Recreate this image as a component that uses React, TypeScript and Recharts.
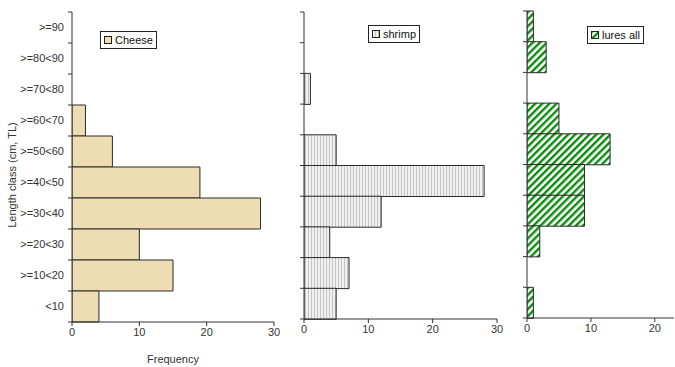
import React from "react";
import { BarChart, Bar, XAxis, YAxis, Legend } from "recharts";

// top to bottom, as drawn
const lengthClasses = [
  ">=90",
  ">=80<90",
  ">=70<80",
  ">=60<70",
  ">=50<60",
  ">=40<50",
  ">=30<40",
  ">=20<30",
  ">=10<20",
  "<10",
];
const cheese = [0, 0, 0, 2, 6, 19, 28, 10, 15, 4];
const shrimp = [0, 0, 1, 0, 5, 28, 12, 4, 7, 5];
const luresAll = [1, 3, 0, 5, 13, 9, 9, 2, 0, 1];
const freqTicks30 = [0, 10, 20, 30];
const freqTicks20 = [0, 10, 20];

const font = "'Liberation Sans', Arial, sans-serif";
const ink = "#333";

const toRows = (values: number[]) =>
  lengthClasses.map((cls, i) => ({ cls, value: values[i] }));

const Patterns = () => (
  <defs>
    <pattern id="shrimpFill" width={3} height={4} patternUnits="userSpaceOnUse">
      <rect width={3} height={4} fill="#f1f1f1" />
      <rect width={1} height={4} fill="#c4c4c4" />
    </pattern>
    <pattern
      id="luresFill"
      width={5}
      height={5}
      patternUnits="userSpaceOnUse"
      patternTransform="rotate(45)"
    >
      <rect width={5} height={5} fill="#fff" />
      <rect width={2.4} height={5} fill="#0a8a0a" />
    </pattern>
  </defs>
);

const LegendBox = ({ label, fill }: { label: string; fill: string }) => (
  <div
    style={{
      display: "inline-flex",
      alignItems: "center",
      border: "1px solid #222",
      background: "#fff",
      padding: "0 3px",
      height: 16,
      fontSize: 11,
      fontFamily: font,
      color: "#111",
      whiteSpace: "nowrap",
    }}
  >
    <svg width={8} height={8}>
      <rect x={0.5} y={0.5} width={7} height={7} fill={fill} stroke="#222" />
    </svg>
    <span style={{ marginLeft: 3 }}>{label}</span>
  </div>
);

const makeTick = (axisX: number, band: number, showLabel: boolean) => (props: any) => {
  const { y, payload, index } = props;
  const top = y - band / 2;
  return (
    <g>
      <line x1={axisX - 4} x2={axisX} y1={top} y2={top} stroke={ink} />
      {index === lengthClasses.length - 1 && (
        <line x1={axisX - 4} x2={axisX} y1={y + band / 2} y2={y + band / 2} stroke={ink} />
      )}
      {showLabel && (
        <text
          x={axisX - 8}
          y={y}
          dy="0.35em"
          textAnchor="end"
          fontSize={11}
          fontFamily={font}
          fill={ink}
        >
          {payload.value}
        </text>
      )}
    </g>
  );
};

const LengthTitle = () => (
  <text
    x={12}
    y={175}
    transform="rotate(-90 12 175)"
    textAnchor="middle"
    dy="0.35em"
    fontSize={11}
    fontFamily={font}
    fill={ink}
  >
    Length class (cm, TL)
  </text>
);

type PanelProps = {
  values: number[];
  fill: string;
  legend: string;
  width: number;
  top: number;
  right: number;
  axisWidth: number;
  xHeight: number;
  max: number;
  ticks: number[];
  legendPos: { left: number; top: number };
  first?: boolean;
};

const Panel = (p: PanelProps) => {
  const height = 367;
  const band = (height - p.top - p.xHeight) / lengthClasses.length;
  return (
    <BarChart
      width={p.width}
      height={height}
      data={toRows(p.values)}
      layout="vertical"
      barCategoryGap={0}
      margin={{ top: p.top, right: p.right, bottom: 0, left: 0 }}
    >
      <Patterns />
      <XAxis
        type="number"
        domain={[0, p.max]}
        ticks={p.ticks}
        allowDataOverflow
        height={p.xHeight}
        stroke={ink}
        tickSize={4}
        tick={{ fontSize: 11, fontFamily: font, fill: ink }}
        label={
          p.first
            ? { value: "Frequency", position: "insideBottom", offset: 4, fontSize: 11, fontFamily: font, fill: ink }
            : undefined
        }
      />
      <YAxis
        type="category"
        dataKey="cls"
        width={p.axisWidth}
        interval={0}
        stroke={ink}
        tickLine={false}
        tick={makeTick(p.axisWidth, band, !!p.first)}
        label={p.first ? { value: "Length class (cm, TL)", content: () => <LengthTitle /> } : undefined}
      />
      <Legend
        layout="vertical"
        align="center"
        verticalAlign="middle"
        wrapperStyle={{ left: p.legendPos.left, top: p.legendPos.top, width: "auto", height: "auto" }}
        content={() => <LegendBox label={p.legend} fill={p.fill} />}
      />
      <Bar dataKey="value" name={p.legend} fill={p.fill} stroke="#2a2a2a" strokeWidth={1} isAnimationActive={false} />
    </BarChart>
  );
};

export default function App() {
  return (
    <div style={{ position: "absolute", left: 0, top: 0, width: 675, height: 367, background: "#fff" }}>
      <div style={{ position: "absolute", left: 0, top: 0 }}>
        <Panel
          values={cheese}
          fill="#eedcb3"
          legend="Cheese"
          width={290}
          top={12}
          right={16}
          axisWidth={72}
          xHeight={45}
          max={30}
          ticks={freqTicks30}
          legendPos={{ left: 100, top: 30 }}
          first
        />
      </div>
      <div style={{ position: "absolute", left: 290, top: 0 }}>
        <Panel
          values={shrimp}
          fill="url(#shrimpFill)"
          legend="shrimp"
          width={220}
          top={12}
          right={13}
          axisWidth={14}
          xHeight={48}
          max={30}
          ticks={freqTicks30}
          legendPos={{ left: 78, top: 24 }}
        />
      </div>
      <div style={{ position: "absolute", left: 510, top: 0 }}>
        <Panel
          values={luresAll}
          fill="url(#luresFill)"
          legend="lures all"
          width={165}
          top={11}
          right={1}
          axisWidth={17}
          xHeight={49}
          max={23}
          ticks={freqTicks20}
          legendPos={{ left: 77, top: 25 }}
        />
      </div>
    </div>
  );
}
